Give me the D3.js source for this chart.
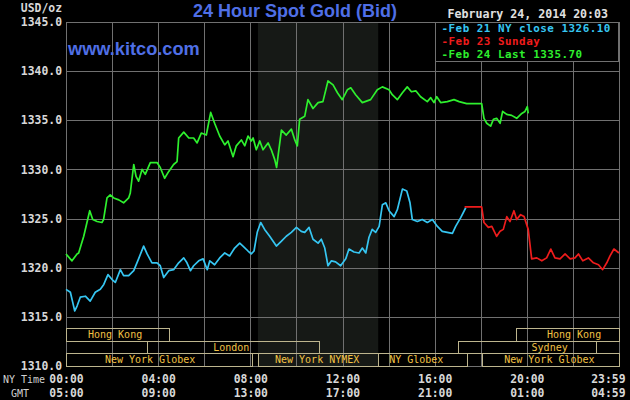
<!DOCTYPE html>
<html><head><meta charset="utf-8">
<script src="https://cdn.jsdelivr.net/npm/d3@7"></script>
<style>
html,body{margin:0;padding:0;background:#000;}
svg{display:block;}
</style></head>
<body>
<svg id="c" width="630" height="400"></svg>
<script>
// ---- data (hours NY time, price USD/oz) ----
const yTicks = [1310,1315,1320,1325,1330,1335,1340,1345];
const xTicks = [0,4,8,12,16,20,24];
const nyTimeLabels = ["00:00","04:00","08:00","12:00","16:00","20:00","23:59"];
const gmtLabels = ["05:00","09:00","13:00","17:00","21:00","01:00","04:59"];
const legendLabels = ["-Feb 21 NY close 1326.10","-Feb 23 Sunday","-Feb 24 Last 1335.70"];
const nymexShade = [8.33, 13.55];
const sessions = [
  {name:"Hong Kong", start:0, end:4.47, row:0, at:2.13},
  {name:"Hong Kong", start:19.55, end:24, row:0, at:22.05},
  {name:"London", start:3.53, end:11.0, row:1, at:7.17},
  {name:"Sydney", start:17.03, end:22.99, row:1, at:20.99},
  {name:"New York Globex", start:0, end:8.06, row:2, at:3.65},
  {name:"New York NYMEX", start:8.33, end:13.52, row:2, at:10.9},
  {name:"NY Globex", start:13.55, end:17.39, row:2, at:15.2},
  {name:"New York Globex", start:18.07, end:24, row:2, at:20.98}
];
const feb21 = [[0.0,1317.8],[0.19,1317.5],[0.29,1316.5],[0.38,1315.6],[0.48,1316.1],[0.62,1317.0],[0.84,1317.1],[1.05,1316.6],[1.27,1317.5],[1.49,1317.8],[1.64,1318.3],[1.82,1319.3],[2.0,1318.8],[2.14,1318.5],[2.36,1319.8],[2.5,1319.2],[2.72,1319.2],[2.94,1319.7],[3.15,1320.9],[3.37,1322.2],[3.52,1321.4],[3.73,1320.5],[3.95,1320.5],[4.09,1320.2],[4.24,1319.0],[4.46,1319.7],[4.67,1319.8],[4.89,1320.5],[5.11,1321.0],[5.25,1320.5],[5.4,1319.7],[5.54,1320.2],[5.76,1320.7],[5.95,1320.9],[6.13,1319.8],[6.24,1320.7],[6.45,1320.3],[6.67,1321.0],[6.89,1321.5],[7.1,1321.2],[7.32,1322.0],[7.54,1322.5],[7.68,1322.2],[7.9,1321.7],[8.04,1321.4],[8.16,1321.7],[8.3,1323.6],[8.45,1324.6],[8.62,1323.9],[8.84,1323.2],[9.13,1322.2],[9.35,1322.7],[9.56,1323.2],[9.78,1323.6],[10.0,1324.1],[10.21,1323.7],[10.36,1323.6],[10.55,1324.1],[10.72,1322.9],[10.94,1322.5],[11.08,1322.9],[11.23,1322.0],[11.37,1320.2],[11.52,1320.7],[11.7,1320.6],[11.92,1320.2],[12.14,1320.9],[12.28,1321.9],[12.5,1321.6],[12.72,1321.5],[12.86,1322.0],[13.01,1321.5],[13.15,1323.1],[13.29,1323.9],[13.44,1323.6],[13.59,1324.2],[13.73,1326.4],[13.88,1326.6],[14.02,1325.8],[14.24,1325.2],[14.38,1325.9],[14.6,1328.0],[14.79,1327.8],[14.93,1326.6],[15.03,1324.9],[15.25,1324.7],[15.46,1324.9],[15.68,1324.6],[15.9,1324.9],[16.12,1324.2],[16.33,1323.7],[16.55,1323.6],[16.77,1323.5],[16.91,1324.2],[17.13,1325.1],[17.35,1326.1]];
const feb23 = [[17.3,1326.2],[18.04,1326.2],[18.14,1324.6],[18.33,1324.1],[18.48,1324.2],[18.69,1323.2],[18.84,1323.7],[18.98,1323.9],[19.13,1325.2],[19.27,1324.7],[19.44,1325.8],[19.56,1324.9],[19.73,1325.4],[19.88,1325.2],[20.06,1323.9],[20.21,1320.9],[20.43,1321.0],[20.65,1320.7],[20.86,1321.0],[21.04,1321.9],[21.22,1321.0],[21.44,1320.9],[21.66,1321.4],[21.88,1320.9],[22.09,1321.0],[22.24,1321.4],[22.43,1320.7],[22.67,1321.0],[22.89,1320.5],[23.11,1320.3],[23.29,1319.8],[23.47,1320.5],[23.61,1321.2],[23.78,1321.9],[24.0,1321.5]];
const feb24 = [[0.0,1321.4],[0.26,1320.7],[0.48,1321.4],[0.55,1321.5],[0.77,1323.2],[0.91,1324.6],[1.03,1325.8],[1.16,1324.9],[1.35,1324.7],[1.56,1324.6],[1.63,1324.9],[1.78,1327.1],[1.92,1327.4],[2.07,1327.1],[2.29,1326.9],[2.5,1326.6],[2.72,1327.1],[2.79,1327.6],[2.94,1330.5],[3.04,1329.3],[3.15,1328.8],[3.3,1330.0],[3.44,1329.5],[3.66,1330.7],[3.95,1330.7],[4.09,1330.2],[4.28,1329.1],[4.46,1329.8],[4.67,1330.5],[4.82,1330.8],[4.89,1333.2],[5.11,1333.8],[5.33,1333.2],[5.54,1333.2],[5.69,1332.7],[5.87,1333.7],[6.09,1333.5],[6.28,1335.8],[6.45,1334.7],[6.67,1333.4],[6.89,1332.5],[7.03,1332.9],[7.25,1331.3],[7.39,1332.4],[7.61,1333.0],[7.76,1332.4],[7.9,1333.4],[8.04,1332.9],[8.12,1333.2],[8.26,1332.0],[8.41,1332.9],[8.55,1332.0],[8.77,1332.7],[8.91,1332.0],[9.06,1331.0],[9.14,1330.2],[9.2,1331.3],[9.35,1334.0],[9.56,1333.5],[9.78,1334.1],[9.93,1333.0],[10.04,1332.4],[10.14,1335.1],[10.36,1335.4],[10.5,1337.1],[10.72,1336.2],[10.94,1336.8],[11.15,1336.9],[11.37,1339.0],[11.59,1338.6],[11.78,1337.8],[11.99,1337.1],[12.21,1338.1],[12.36,1338.3],[12.57,1337.6],[12.86,1336.8],[13.22,1337.1],[13.51,1338.1],[13.73,1338.4],[14.02,1338.1],[14.16,1337.6],[14.38,1337.1],[14.6,1337.8],[14.81,1338.4],[14.99,1337.9],[15.18,1338.0],[15.39,1337.4],[15.68,1336.9],[15.83,1337.3],[15.97,1336.8],[16.09,1337.4],[16.26,1336.8],[16.55,1336.9],[16.84,1337.1],[17.06,1336.9],[17.39,1336.7],[18.04,1336.7],[18.14,1335.2],[18.26,1334.7],[18.43,1334.4],[18.55,1335.1],[18.69,1335.2],[18.84,1334.7],[18.95,1335.9],[19.13,1335.6],[19.34,1335.5],[19.56,1335.2],[19.78,1335.7],[19.92,1335.9],[20.02,1336.4],[20.06,1335.7]];

// ---- drawing ----
const svg = d3.select("#c");
const W = 630, H = 400;
const L = 66, R = 619, T = 22, B = 366;
const x = d3.scaleLinear().domain([0,24]).range([L,R]);
const y = d3.scaleLinear().domain([1310,1345]).range([B,T]);
const mono = "'DejaVu Sans Mono', monospace";
const gridCol = "#707070";
const colors = ["#36c6f2","#ee1c1c","#2ef02e"];

svg.append("rect").attr("width",W).attr("height",H).attr("fill","#000");

// NYMEX shading
svg.append("rect").attr("x",x(nymexShade[0])).attr("y",T)
  .attr("width",x(nymexShade[1])-x(nymexShade[0])).attr("height",B-T).attr("fill","#161916");

// grid
const grid = svg.append("g").attr("stroke",gridCol).attr("stroke-width",1).attr("shape-rendering","crispEdges");
grid.selectAll(".h").data(yTicks).join("line")
  .attr("x1",L).attr("x2",R).attr("y1",d=>Math.round(y(d))+0.5).attr("y2",d=>Math.round(y(d))+0.5);
grid.selectAll(".v").data(d3.range(0,25,2)).join("line")
  .attr("y1",T).attr("y2",B).attr("x1",d=>Math.round(x(d))+0.5).attr("x2",d=>Math.round(x(d))+0.5);

// sessions
const rowTop = [328, 340.7, 353.3], rowH = 12.6;
const sg = svg.append("g");
sg.selectAll("rect").data(sessions).join("rect")
  .attr("x",d=>Math.round(x(d.start))+0.5).attr("y",d=>Math.round(rowTop[d.row])+0.5)
  .attr("width",d=>Math.round(x(d.end))-Math.round(x(d.start)))
  .attr("height",d=>Math.round(rowTop[d.row]+rowH)-Math.round(rowTop[d.row]))
  .attr("fill","none").attr("stroke","#bdb58e").attr("stroke-width",1);
sg.selectAll("text").data(sessions).join("text")
  .attr("x",d=>x(d.at)).attr("y",d=>rowTop[d.row]+9.8)
  .attr("text-anchor","middle").attr("fill","#f2c244")
  .attr("font-family",mono).attr("font-size","10px").text(d=>d.name);

// lines
const line = d3.line().x(d=>x(d[0])).y(d=>y(d[1]));
[feb21, feb23, feb24].forEach((s,i)=>{
  svg.append("path").datum(s).attr("d",line).attr("fill","none")
    .attr("stroke",colors[i]).attr("stroke-width",1.7).attr("stroke-linejoin","round");
});

// y axis labels
const yAxis = d3.axisLeft(y).tickValues(yTicks).tickSize(0).tickPadding(4).tickFormat(d3.format(".1f"));
const ya = svg.append("g").attr("transform",`translate(${L},0)`).call(yAxis);
ya.select(".domain").remove();
ya.selectAll("text").attr("fill","#d8d8d8").attr("font-family",mono)
  .attr("font-size","11.4px").attr("font-weight","bold").attr("dy","0.32em");

// x axis labels: two rows
function xRow(labels, ty){
  const ax = d3.axisBottom(x).tickValues(xTicks).tickSize(0).tickPadding(0).tickFormat((d,i)=>labels[i]);
  const g = svg.append("g").attr("transform",`translate(0,${ty})`).call(ax);
  g.select(".domain").remove();
  g.selectAll("text").attr("fill","#d8d8d8").attr("font-family",mono)
    .attr("font-size","11.4px").attr("font-weight","bold").attr("dy","0");
  g.selectAll(".tick").filter(d=>d===24).select("text").attr("text-anchor","end").attr("dx","6");
}
xRow(nyTimeLabels, 382.5);
xRow(gmtLabels, 397);

svg.append("text").attr("x",24).attr("y",382.5).attr("text-anchor","middle")
  .attr("fill","#d0d0d0").attr("font-family",mono).attr("font-size","10px").text("NY Time");
svg.append("text").attr("x",20).attr("y",397).attr("text-anchor","middle")
  .attr("fill","#d0d0d0").attr("font-family",mono).attr("font-size","10px").text("GMT");

// USD/oz
svg.append("text").attr("x",62).attr("y",12).attr("text-anchor","end")
  .attr("fill","#d8d8d8").attr("font-family",mono).attr("font-size","11.4px").attr("font-weight","bold").text("USD/oz");

// title & site
svg.append("text").attr("x",295).attr("y",17).attr("text-anchor","middle")
  .attr("fill","#4f6fe6").attr("font-family","'Liberation Sans', Arial, sans-serif")
  .attr("font-size","18px").attr("font-weight","bold").text("24 Hour Spot Gold (Bid)");
svg.append("text").attr("x",68).attr("y",54.5)
  .attr("fill","#4f6fe6").attr("font-family","'Liberation Sans', Arial, sans-serif")
  .attr("font-size","18.2px").attr("font-weight","bold").text("www.kitco.com");

// date
svg.append("text").attr("x",447.5).attr("y",17.5)
  .attr("fill","#e0e0e0").attr("font-family",mono).attr("font-size","11.6px").attr("font-weight","bold")
  .text("February 24, 2014 20:03");

// legend box
svg.append("rect").attr("x",435.5).attr("y",22.5).attr("width",183).attr("height",38.5)
  .attr("fill","#000").attr("stroke",gridCol).attr("shape-rendering","crispEdges");
svg.append("g").selectAll("text").data(legendLabels).join("text")
  .attr("x",441.5).attr("y",(d,i)=>32+i*12.9)
  .attr("fill",(d,i)=>colors[i]).attr("font-family",mono).attr("font-size","10.9px").attr("font-weight","bold")
  .attr("letter-spacing","0.5px")
  .text(d=>d);
</script>
</body></html>
